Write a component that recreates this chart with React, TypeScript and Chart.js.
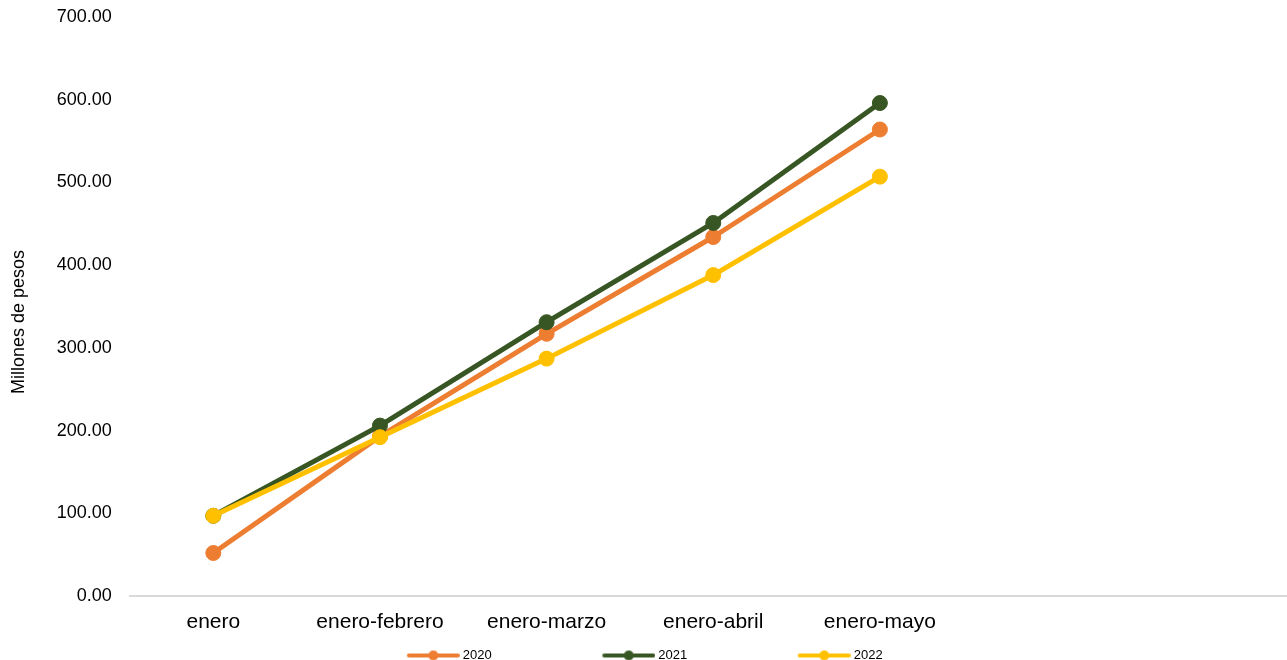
import React, { useEffect, useRef } from 'react';
import { Chart, registerables } from 'chart.js';

Chart.register(...registerables);

const categories = ['enero', 'enero-febrero', 'enero-marzo', 'enero-abril', 'enero-mayo', '', ''];
const values2020 = [52, 193, 317, 434, 564];
const values2021 = [97, 206, 331, 451, 596];
const values2022 = [97, 192, 287, 388, 507];
const seriesNames = ['2020', '2021', '2022'];
const seriesColors = ['#ED7D31', '#375623', '#FFC000'];
const yMin = 0;
const yMax = 700;
const yStep = 100;
const yTitle = 'Millones de pesos';

const FONT = "'Liberation Sans', Arial, sans-serif";

function makeLegendIcon(color: string): HTMLCanvasElement {
  const c = document.createElement('canvas');
  c.width = 157;
  c.height = 14;
  const ctx = c.getContext('2d')!;
  ctx.strokeStyle = color;
  ctx.lineWidth = 4;
  ctx.lineCap = 'round';
  ctx.beginPath();
  ctx.moveTo(106, 7);
  ctx.lineTo(155, 7);
  ctx.stroke();
  ctx.fillStyle = color;
  ctx.beginPath();
  ctx.arc(130.5, 7, 5, 0, Math.PI * 2);
  ctx.fill();
  return c;
}

export default function App() {
  const ref = useRef<HTMLCanvasElement | null>(null);

  useEffect(() => {
    if (!ref.current) return;
    const seriesValues = [values2020, values2021, values2022];
    const icons = seriesColors.map(makeLegendIcon);
    const chart = new Chart(ref.current, {
      type: 'line',
      data: {
        labels: categories,
        datasets: seriesNames.map((name, i) => ({
          label: name,
          data: seriesValues[i],
          borderColor: seriesColors[i],
          backgroundColor: seriesColors[i],
          pointBackgroundColor: seriesColors[i],
          pointBorderColor: seriesColors[i],
          borderWidth: 5,
          pointRadius: 7.5,
          pointBorderWidth: 1,
          tension: 0,
          fill: false,
          borderCapStyle: 'round' as const,
          borderJoinStyle: 'round' as const,
          order: seriesNames.length - i,
        })),
      },
      options: {
        responsive: false,
        animation: false,
        layout: { padding: { left: -116, top: -28, right: 0, bottom: 0 } },
        scales: {
          x: {
            type: 'category',
            offset: true,
            grid: { display: true, color: 'rgba(0,0,0,0)', drawTicks: false },
            border: { display: true, color: '#D9D9D9', width: 2 },
            ticks: { color: '#000', font: { family: FONT, size: 21 }, padding: 14, maxRotation: 0, autoSkip: false },
            afterFit: (s: any) => { s.height = 43; },
          },
          y: {
            min: yMin,
            max: yMax,
            grid: { display: false, drawTicks: true, tickLength: 12 },
            border: { display: false },
            ticks: {
              stepSize: yStep,
              color: '#000',
              font: { family: FONT, size: 18 },
              padding: 6.2,
              callback: (v: any) => Number(v).toFixed(2),
            },
            afterFit: (s: any) => { s.width = 100.4; },
          },
        },
        plugins: {
          tooltip: { enabled: false },
          title: {
            display: true,
            text: yTitle,
            position: 'left',
            color: '#000',
            font: { family: FONT, size: 18, weight: 'normal' },
            padding: { top: 124, bottom: 0 },
          },
          legend: {
            position: 'bottom',
            labels: {
              usePointStyle: true,
              pointStyleWidth: 150,
              boxHeight: 13,
              padding: 10,
              color: '#000',
              font: { family: FONT, size: 13 },
              sort: (a: any, b: any) => a.datasetIndex - b.datasetIndex,
              generateLabels: (c: any) => {
                const items = Chart.defaults.plugins.legend.labels.generateLabels(c);
                return items.map((it: any) => ({ ...it, pointStyle: icons[it.datasetIndex] }));
              },
            },
          },
        },
      },
    });
    return () => chart.destroy();
  }, []);

  return (
    <div style={{ position: 'fixed', left: 0, top: 0, width: 1287, height: 660, overflow: 'hidden', background: '#fff' }}>
      <canvas ref={ref} width={1305} height={672} style={{ display: 'block', width: 1305, height: 672 }} />
    </div>
  );
}
